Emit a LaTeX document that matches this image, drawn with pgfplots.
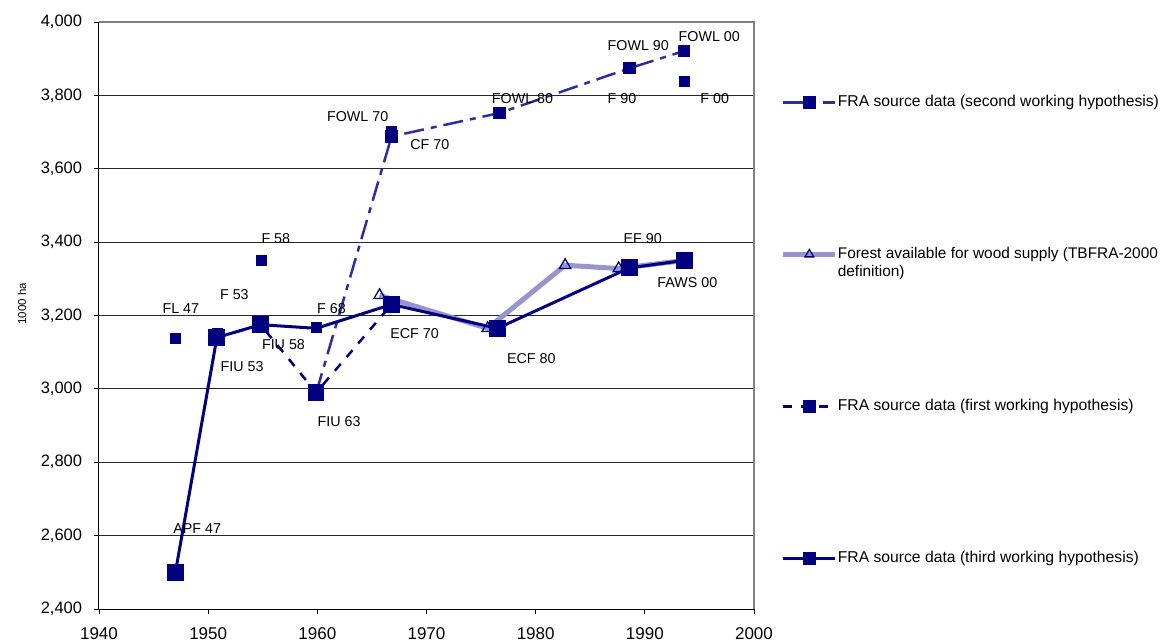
\documentclass[border=0pt]{standalone}
\usepackage{pgfplots}
\pgfplotsset{compat=1.18}
\usepackage{fontspec}
\setmainfont{Liberation Sans}
\definecolor{navy}{RGB}{0,0,128}
\definecolor{secblue}{RGB}{46,46,160}
\definecolor{tbfra}{RGB}{150,150,205}
\begin{document}
\fontsize{14}{16}\selectfont
\begin{tikzpicture}
\path[use as bounding box] (0,0) rectangle (1165pt,641pt);
\begin{axis}[
  at={(99pt,32pt)}, anchor=south west,
  scale only axis, width=655pt, height=587pt,
  xmin=1940, xmax=2000, ymin=2400, ymax=4000,
  xtick={1940,1950,...,2000}, ytick={2400,2600,...,4000},
  axis x line*=bottom, axis y line*=left,
  axis line style={black, line width=1pt},
  tick align=outside, major tick length=5pt,
  tick style={black, line width=0.8pt},
  ymajorgrids, major grid style={black!85, line width=0.9pt},
  clip=false,
  /pgf/number format/assume math mode=true,
  yticklabel style={/pgf/number format/1000 sep={,}, font=\fontsize{16.5}{18}\selectfont, inner sep=0pt, anchor=east, xshift=-11.7pt},
  xticklabel style={/pgf/number format/1000 sep={}, font=\fontsize{17}{19}\selectfont, inner sep=0pt, anchor=north, yshift=-13pt},
  ylabel={1000 ha},
  ylabel style={at={(rel axis cs:-0.1176,0.52)}, anchor=center, font=\fontsize{11.5}{13}\selectfont},
  legend cell align=left,
  legend style={at={(1.041,0.8754)}, anchor=north west, draw=none, fill=none,
    inner sep=0pt, outer sep=0pt, row sep=137.5pt, column sep=0pt,
    nodes={inner sep=0pt, text height=11.2pt, text depth=3.3pt, font=\fontsize{15.7}{18}\selectfont}},
  legend image code/.code={\draw[mark repeat=2,mark phase=2,#1] plot coordinates {(0pt,0pt) (26pt,0pt) (52pt,0pt)};},
  every legend image post/.style={mark size=5pt},
]
% isolated source points
\addplot[only marks, mark=square*, mark size=5pt, navy, forget plot] coordinates {
 (1947,3137) (1950.8,3151) (1954.9,3350) (1959.9,3167) (1966.8,3702) (1993.6,3839)};
% second working hypothesis
\addplot[secblue, line width=2.5pt, dash pattern=on 20pt off 7pt on 6pt off 7pt,
  mark=square*, mark size=5pt, mark options={solid, fill=navy, draw=navy}] coordinates {
 (1959.9,2990) (1966.8,3688) (1976.7,3752) (1988.6,3874) (1993.6,3921)};
\addlegendentry{FRA source data (second working hypothesis)}
% TBFRA
\addplot[tbfra, line width=5pt, mark=triangle, mark size=6.5pt,
  mark options={solid, draw=navy, line width=1.3pt, fill=none}] coordinates {
 (1965.7,3255) (1975.6,3165) (1982.7,3337) (1987.6,3328) (1993.6,3350)};
\addlegendentry{\fontsize{15.4}{18}\selectfont\makebox[0pt][l]{\raisebox{-18pt}[0pt][0pt]{definition)}}Forest available for wood supply (TBFRA-2000}
% first working hypothesis
\addplot[navy, line width=2.5pt, dash pattern=on 9pt off 9pt, mark=square*, mark size=7pt,
  mark options={solid}] coordinates {
 (1950.8,3140) (1954.8,3175) (1959.9,2990) (1966.8,3230)};
\addlegendentry{FRA source data (first working hypothesis)}
% third working hypothesis
\addplot[navy, line width=3pt, mark=square*, mark size=7pt, mark indices={1,2,3,5,6,7,8}, forget plot] coordinates {
 (1947,2500) (1950.8,3140) (1954.8,3175) (1959.9,3165) (1966.8,3230) (1976.5,3165) (1988.6,3330) (1993.6,3350)};
\addlegendimage{navy, line width=3pt, mark=square*}
\addlegendentry{FRA source data (third working hypothesis)}
% frame top and right
\draw[black!50, line width=1.5pt] (rel axis cs:0,1) -- (rel axis cs:1,1) -- (rel axis cs:1,0);
% point labels
\begin{scope}[every node/.style={font=\fontsize{14.3}{16}\selectfont, inner sep=0pt}]
\node at (axis cs:1947.5,3219) {FL 47};
\node at (axis cs:1952.4,3257) {F 53};
\node at (axis cs:1956.2,3410) {F 58};
\node at (axis cs:1961.3,3219) {F 68};
\node at (axis cs:1953.1,3061) {FIU 53};
\node at (axis cs:1956.9,3121) {FIU 58};
\node at (axis cs:1962.0,2911) {FIU 63};
\node at (axis cs:1968.9,3151) {ECF 70};
\node at (axis cs:1979.6,3083) {ECF 80};
\node at (axis cs:1989.8,3410) {EF 90};
\node at (axis cs:1993.9,3290) {FAWS 00};
\node at (axis cs:1949.0,2618) {APF 47};
\node at (axis cs:1963.7,3741) {FOWL 70};
\node at (axis cs:1970.3,3667) {CF 70};
\node at (axis cs:1978.8,3792) {FOWL 80};
\node at (axis cs:1987.9,3792) {F 90};
\node at (axis cs:1989.4,3937) {FOWL 90};
\node at (axis cs:1995.9,3959) {FOWL 00};
\node at (axis cs:1996.4,3792) {F 00};
\end{scope}
\end{axis}
\end{tikzpicture}
\end{document}
